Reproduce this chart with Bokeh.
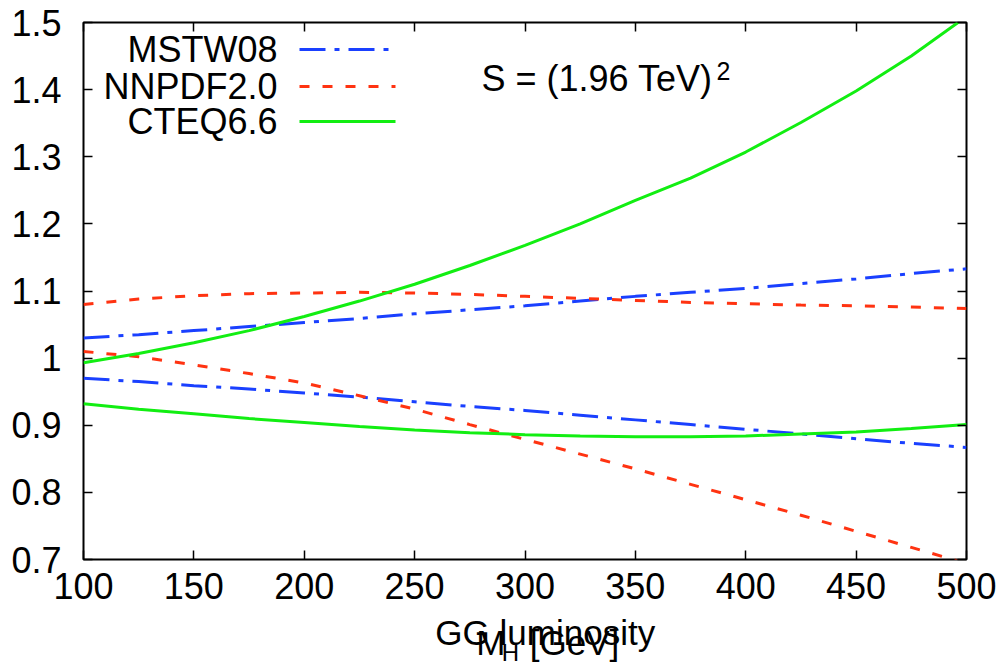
from bokeh.plotting import figure
from bokeh.layouts import column
from bokeh.models import Range1d, LinearAxis, FixedTicker, PrintfTickFormatter, Label
from bokeh.embed import file_html
from bokeh.resources import INLINE

# ---------------- data ----------------
mh = [100, 125, 150, 175, 200, 225, 250, 275, 300, 325, 350, 375, 400, 425, 450, 475, 500]

mstw_up = [1.030, 1.035, 1.041, 1.047, 1.053, 1.059, 1.066, 1.072, 1.078, 1.085, 1.092, 1.098, 1.104, 1.111, 1.118, 1.126, 1.133]
mstw_lo = [0.970, 0.965, 0.959, 0.954, 0.948, 0.942, 0.935, 0.928, 0.922, 0.915, 0.908, 0.901, 0.894, 0.887, 0.880, 0.873, 0.867]
nnpdf_up = [1.080, 1.088, 1.093, 1.096, 1.097, 1.098, 1.097, 1.095, 1.092, 1.089, 1.086, 1.083, 1.081, 1.079, 1.078, 1.076, 1.074]
nnpdf_lo = [1.010, 1.002, 0.990, 0.977, 0.963, 0.944, 0.924, 0.901, 0.879, 0.857, 0.835, 0.812, 0.789, 0.766, 0.742, 0.718, 0.694]
cteq_up = [0.993, 1.007, 1.023, 1.041, 1.062, 1.085, 1.110, 1.138, 1.168, 1.200, 1.235, 1.268, 1.307, 1.351, 1.398, 1.450, 1.509]
cteq_lo = [0.932, 0.924, 0.917, 0.910, 0.904, 0.898, 0.893, 0.889, 0.886, 0.884, 0.883, 0.883, 0.884, 0.887, 0.890, 0.895, 0.901]

series_names = ["MSTW08", "NNPDF2.0", "CTEQ6.6"]
x_ticks = [100, 150, 200, 250, 300, 350, 400, 450, 500]
y_ticks = [0.7, 0.8, 0.9, 1.0, 1.1, 1.2, 1.3, 1.4, 1.5]
x_title = "GG luminosity"
x_var, x_sub, x_unit = "M", "H", "[GeV]"
energy_text, energy_exp = "S = (1.96 TeV)", "2"

# ---------------- layout / style ----------------
W, H = 1003, 667
H1 = 612                     # height of the main plot
FL, FR, FT, FB = 83, 966, 22, 559  # frame edges in px
X0, X1, Y0, Y1 = 100, 500, 0.7, 1.5
FONT = "Liberation Sans"
FS = "36px"
FS_T = "35px"
FS_SMALL = "25px"

BLUE = "#1a40ff"
RED = "#ff3311"
GREEN = "#12ee12"
styles = [
    dict(color=BLUE, dash="26 9 5 9"),
    dict(color=RED, dash="10 13"),
    dict(color=GREEN, dash="solid"),
]


def dx(px):
    return X0 + (px - FL) * (X1 - X0) / (FR - FL)


def dy(py):
    return Y1 - (py - FT) * (Y1 - Y0) / (FB - FT)


p = figure(width=W, height=H1, output_backend="svg", toolbar_location=None,
           x_range=Range1d(X0, X1), y_range=Range1d(Y0, Y1),
           x_axis_location=None, y_axis_location=None,
           min_border_left=FL, min_border_right=W - FR,
           min_border_top=FT, min_border_bottom=H1 - FB)
p.grid.visible = False
p.outline_line_color = "black"
p.outline_line_width = 2
p.background_fill_color = "white"
p.border_fill_color = "white"


def make_axis(labels=True, ticks=None):
    ax = LinearAxis(ticker=FixedTicker(ticks=ticks))
    ax.axis_line_color = None
    ax.major_tick_in = 9
    ax.major_tick_out = 0
    ax.minor_tick_line_color = None
    ax.major_tick_line_color = "black"
    ax.major_tick_line_width = 1.5
    ax.major_label_text_font = FONT
    if labels:
        ax.major_label_text_font_size = FS
        ax.major_label_text_color = "black"
    else:
        ax.major_label_text_font_size = "0px"
        ax.major_label_text_color = None
        ax.major_label_standoff = 0
    return ax


bottom = make_axis(True, x_ticks)
bottom.major_label_standoff = 13
left = make_axis(True, y_ticks)
left.major_label_standoff = 22
left.formatter = PrintfTickFormatter(format="%g")
top = make_axis(False, x_ticks)
right = make_axis(False, y_ticks)
p.add_layout(bottom, "below")
p.add_layout(left, "left")
p.add_layout(top, "above")
p.add_layout(right, "right")

# curves
pairs = [(mstw_up, mstw_lo), (nnpdf_up, nnpdf_lo), (cteq_up, cteq_lo)]
for (up, lo), st in zip(pairs, styles):
    for ys in (up, lo):
        p.line(mh, ys, line_color=st["color"], line_width=3, line_dash=st["dash"])

# legend (label right-aligned, sample line to the right)
leg_text_right = 277
leg_line = (299, 395)
leg_rows = [49, 86, 121]
for name, st, ry in zip(series_names, styles, leg_rows):
    p.add_layout(Label(x=dx(leg_text_right), y=dy(ry), text=name, text_align="right",
                       text_baseline="middle", text_font=FONT, text_font_size=FS,
                       text_color="black"))
    p.line([dx(leg_line[0]), dx(leg_line[1])], [dy(ry), dy(ry)], line_color=st["color"],
           line_width=3, line_dash=st["dash"])

# S = (1.96 TeV)^2
p.add_layout(Label(x=dx(481), y=dy(78), text=energy_text, text_align="left",
                   text_baseline="middle", text_font=FONT, text_font_size=FS,
                   text_color="black"))
p.add_layout(Label(x=dx(716), y=dy(70), text=energy_exp, text_align="left",
                   text_baseline="middle", text_font=FONT, text_font_size=FS_SMALL,
                   text_color="black"))

# ---------------- x-axis titles: a strip below the main plot ----------------
p2 = figure(width=W, height=H - H1, output_backend="svg", toolbar_location=None,
            x_range=Range1d(0, W), y_range=Range1d(H, H1),
            x_axis_location=None, y_axis_location=None,
            min_border=0, min_border_left=0, min_border_right=0,
            min_border_top=0, min_border_bottom=0)
p2.grid.visible = False
p2.outline_line_color = None
p2.background_fill_color = "white"
p2.border_fill_color = "white"

p2.add_layout(Label(x=(FL + FR) / 2, y=632, text=x_title, text_align="center",
                    text_baseline="middle", text_font=FONT, text_font_size=FS_T,
                    text_color="black"))
p2.add_layout(Label(x=446, y=642, text=x_var, text_align="left",
                    text_baseline="middle", text_font=FONT, text_font_size=FS_T,
                    text_color="black"))
p2.add_layout(Label(x=475, y=652, text=x_sub, text_align="left",
                    text_baseline="middle", text_font=FONT, text_font_size="24px",
                    text_color="black"))
p2.add_layout(Label(x=507, y=642, text=x_unit, text_align="left",
                    text_baseline="middle", text_font=FONT, text_font_size=FS_T,
                    text_color="black"))

layout = column(p, p2, spacing=0)
open("out.html", "w").write(file_html(layout, INLINE))
